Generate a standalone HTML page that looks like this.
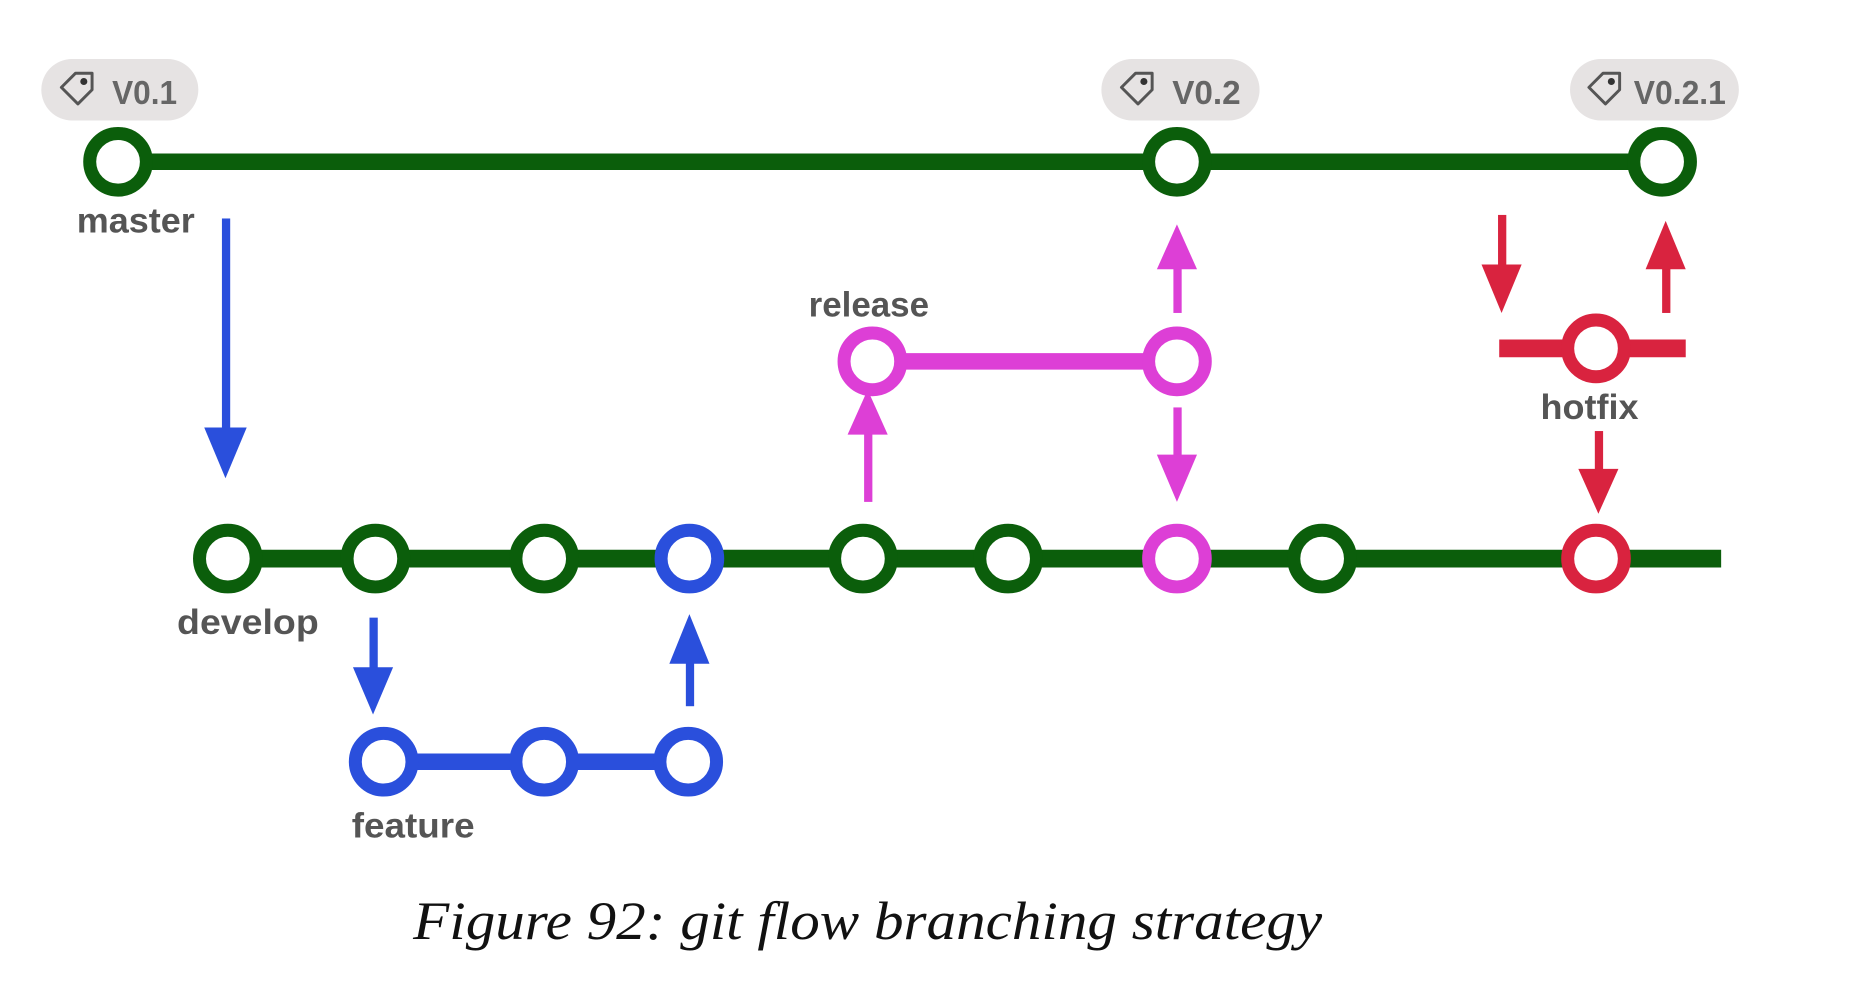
<!DOCTYPE html>
<html><head><meta charset="utf-8"><style>
html,body{margin:0;padding:0;background:#fff;}
svg{display:block}
.lbl{font-family:"Liberation Sans",sans-serif;font-size:30px;fill:#555;font-weight:bold}
.tag{font-family:"Liberation Sans",sans-serif;font-size:28px;fill:#666;font-weight:bold}
</style></head><body>
<svg width="1851" height="992" viewBox="0 0 1568 840" preserveAspectRatio="none" xmlns="http://www.w3.org/2000/svg">
<defs>
<g id="tagicon"><path d="M0 12 L12 0 L26 0 L26 14 L14 26 Z" fill="none" stroke="#555" stroke-width="2.5" stroke-linejoin="round"/><circle cx="19" cy="7" r="3" fill="#333"/></g>
</defs>
<rect x="35" y="50" width="133" height="52" rx="26" fill="#e6e3e3"/>
<use href="#tagicon" x="52" y="62"/><text class="tag" x="95" y="88" textLength="55" lengthAdjust="spacingAndGlyphs">V0.1</text>
<rect x="933" y="50" width="134" height="52" rx="26" fill="#e6e3e3"/>
<use href="#tagicon" x="950" y="62"/><text class="tag" x="993" y="88" textLength="58" lengthAdjust="spacingAndGlyphs">V0.2</text>
<rect x="1330" y="50" width="143" height="52" rx="26" fill="#e6e3e3"/>
<use href="#tagicon" x="1346" y="62"/><text class="tag" x="1384" y="88" textLength="78" lengthAdjust="spacingAndGlyphs">V0.2.1</text>

<g fill="#fff" stroke-width="11">
<line x1="100" y1="137" x2="1408" y2="137" stroke="#0b5e0b" stroke-width="14"/>
<circle cx="100" cy="137" r="24" stroke="#0b5e0b"/>
<circle cx="997" cy="137" r="24" stroke="#0b5e0b"/>
<circle cx="1408" cy="137" r="24" stroke="#0b5e0b"/>
<line x1="193" y1="473" x2="1458" y2="473" stroke="#0b5e0b" stroke-width="15"/>
<circle cx="193" cy="473" r="24" stroke="#0b5e0b"/>
<circle cx="318" cy="473" r="24" stroke="#0b5e0b"/>
<circle cx="461" cy="473" r="24" stroke="#0b5e0b"/>
<circle cx="584" cy="473" r="24" stroke="#2a4fdc"/>
<circle cx="731" cy="473" r="24" stroke="#0b5e0b"/>
<circle cx="854" cy="473" r="24" stroke="#0b5e0b"/>
<circle cx="997" cy="473" r="24" stroke="#dd3fd6"/>
<circle cx="1120" cy="473" r="24" stroke="#0b5e0b"/>
<circle cx="1352" cy="473" r="24" stroke="#d9233f"/>
<line x1="325" y1="645" x2="583" y2="645" stroke="#2a4fdc" stroke-width="14"/>
<circle cx="325" cy="645" r="24" stroke="#2a4fdc"/>
<circle cx="461" cy="645" r="24" stroke="#2a4fdc"/>
<circle cx="583" cy="645" r="24" stroke="#2a4fdc"/>
<line x1="739" y1="306" x2="997" y2="306" stroke="#dd3fd6" stroke-width="14"/>
<circle cx="739" cy="306" r="24" stroke="#dd3fd6"/>
<circle cx="997" cy="306" r="24" stroke="#dd3fd6"/>
<line x1="1270" y1="295" x2="1428" y2="295" stroke="#d9233f" stroke-width="15"/>
<circle cx="1352" cy="295" r="24" stroke="#d9233f"/>
</g>

<g>
<rect x="188" y="185" width="7" height="180" fill="#2a4fdc"/><polygon points="173,362 209,362 191,405" fill="#2a4fdc"/>
<rect x="313" y="523" width="7" height="45" fill="#2a4fdc"/><polygon points="299,565 333,565 316,605" fill="#2a4fdc"/>
<rect x="581" y="560" width="7" height="38" fill="#2a4fdc"/><polygon points="567,562 601,562 584,520" fill="#2a4fdc"/>
<rect x="732" y="365" width="7" height="60" fill="#dd3fd6"/><polygon points="718,368 752,368 735,330" fill="#dd3fd6"/>
<rect x="994" y="225" width="7" height="40" fill="#dd3fd6"/><polygon points="980,228 1014,228 997,190" fill="#dd3fd6"/>
<rect x="994" y="345" width="7" height="45" fill="#dd3fd6"/><polygon points="980,385 1014,385 997,425" fill="#dd3fd6"/>
<rect x="1269" y="182" width="7" height="45" fill="#d9233f"/><polygon points="1255,224 1289,224 1272,265" fill="#d9233f"/>
<rect x="1408" y="225" width="7" height="40" fill="#d9233f"/><polygon points="1394,228 1428,228 1411,187" fill="#d9233f"/>
<rect x="1351" y="365" width="7" height="35" fill="#d9233f"/><polygon points="1337,397 1371,397 1354,435" fill="#d9233f"/>
</g>

<text class="lbl" x="65" y="197" textLength="100" lengthAdjust="spacingAndGlyphs">master</text>
<text class="lbl" x="150" y="537" textLength="120" lengthAdjust="spacingAndGlyphs">develop</text>
<text class="lbl" x="298" y="709" textLength="104" lengthAdjust="spacingAndGlyphs">feature</text>
<text class="lbl" x="685" y="268" textLength="102" lengthAdjust="spacingAndGlyphs">release</text>
<text class="lbl" x="1305" y="355" textLength="83" lengthAdjust="spacingAndGlyphs">hotfix</text>

<text x="350" y="795" font-family="'Liberation Serif',serif" font-style="italic" font-size="46" fill="#111" textLength="770" lengthAdjust="spacingAndGlyphs">Figure 92: git flow branching strategy</text>
</svg>
</body></html>
